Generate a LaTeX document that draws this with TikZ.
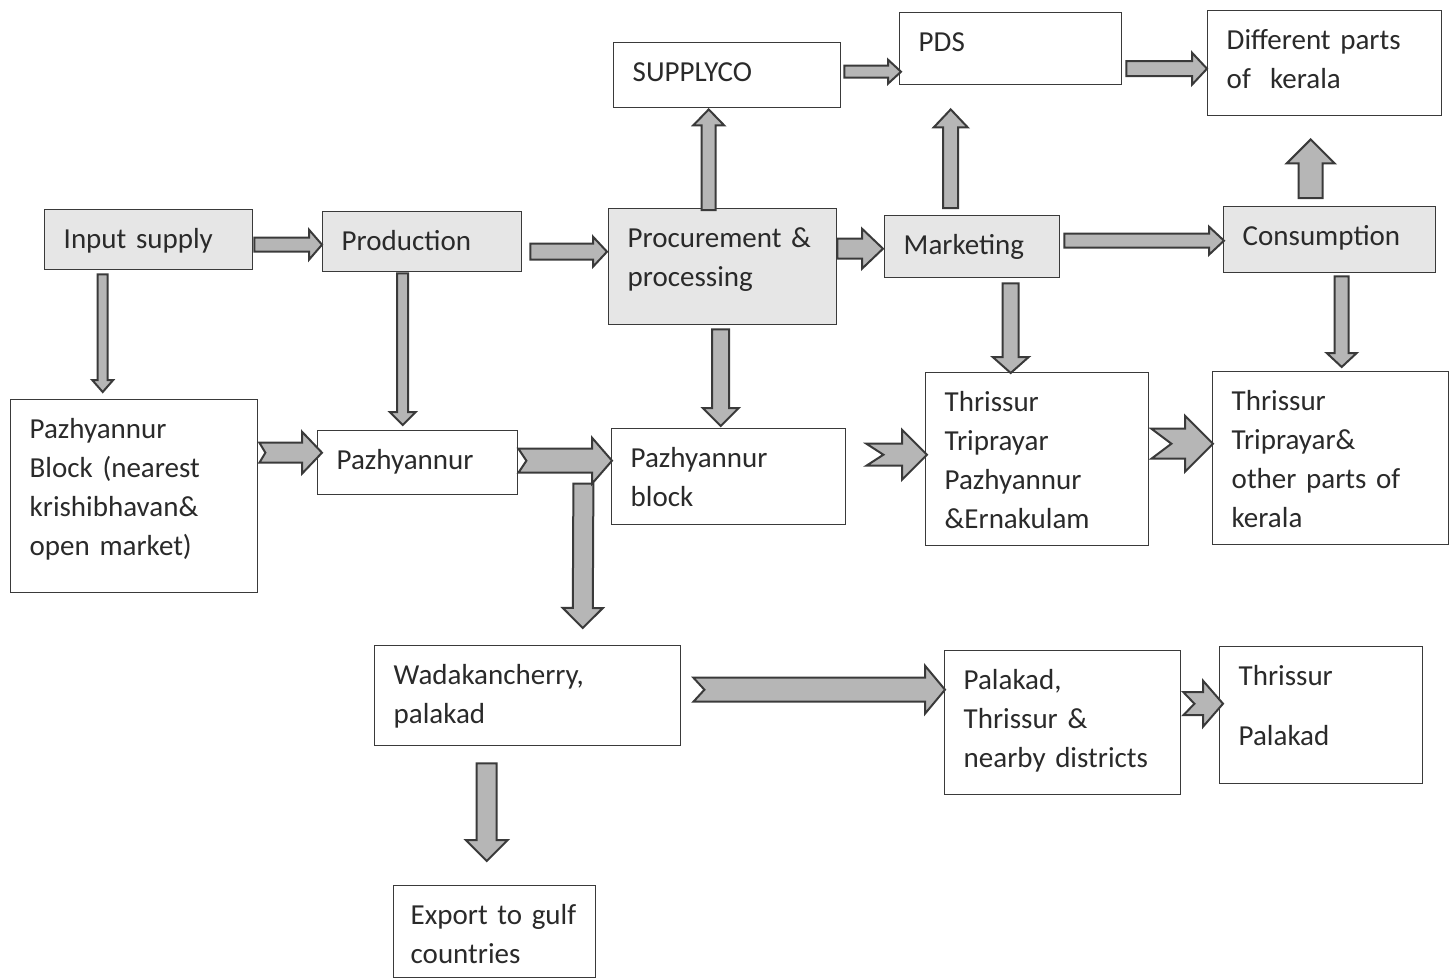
\documentclass[tikz,border=0pt]{standalone}
\usepackage{fontspec}
\setmainfont{Carlito}
\usetikzlibrary{calc}

\definecolor{boxline}{HTML}{3A3A3A}
\definecolor{boxfill}{HTML}{E6E6E6}
\definecolor{arrowfill}{HTML}{B6B6B6}
\definecolor{textcol}{HTML}{2A2A2A}

% [notch]{from}{to}{half shaft}{half head}{head length}
\newcommand{\fatarrow}[6][0]{%
  \coordinate (fa-s) at (#2);
  \coordinate (fa-e) at (#3);
  \coordinate (fa-b) at ($(fa-e)!#6pt!(fa-s)$);
  \draw[fatarrow]
    ($(fa-s)!#4pt!90:(fa-e)$) -- ($(fa-b)!#4pt!90:(fa-e)$)
    -- ($(fa-b)!#5pt!90:(fa-e)$) -- (fa-e)
    -- ($(fa-b)!#5pt!-90:(fa-e)$) -- ($(fa-b)!#4pt!-90:(fa-e)$)
    -- ($(fa-s)!#4pt!-90:(fa-e)$) -- ($(fa-s)!#1pt!(fa-e)$) -- cycle;
}

\begin{document}
\begin{tikzpicture}[
    x=1pt, y=-1pt,
    box/.style={
        draw=boxline,
        line width=1.4pt,
        fill=white,
        align=left,
        anchor=north west,
        inner xsep=19pt,
        inner ysep=0pt,
        text height=38.5pt,
        text=textcol,
        font=\fontsize{29}{39}\selectfont
    },
    stage/.style={box, fill=boxfill},
    fatarrow/.style={
        draw=boxline,
        fill=arrowfill,
        line width=2pt,
        line join=miter
    }
]
\useasboundingbox (0,0) rectangle (1450,978);

% Top row
\node[box, text width=189, text depth=26.5] (supplyco) at (613,42) {SUPPLYCO};
\node[box, text width=184, text depth=33.5] (pds) at (899,12) {PDS};
\node[box, text width=196, text depth=66.5] (kerala) at (1207,10) {Different parts\\of\ \ kerala};

% Stages
\node[stage, text width=170, text depth=21.5] (input) at (44,209) {Input supply};
\node[stage, text width=161, text depth=21.5] (production) at (322,211) {Production};
\node[stage, text width=190, text depth=77.5] (procure) at (608,208) {Procurement \&\\processing};
\node[stage, text width=137, text depth=23.5] (marketing) at (884,215) {Marketing};
\node[stage, text width=174, text depth=27.5] (consume) at (1223,206) {Consumption};

% Places
\node[box, text width=209, text depth=154.5] (pzblock) at (10,399)
    {Pazhyannur\\Block (nearest\\krishibhavan\&\\open market)};
\node[box, text width=162, text depth=25.5] (pzh) at (317,430) {Pazhyannur};
\node[box, text width=196, text depth=57.5] (pzhblock) at (611,428) {Pazhyannur\\block};
\node[box, text width=185, text depth=134.5] (thr1) at (925,372)
    {Thrissur\\Triprayar\\Pazhyannur\\\&Ernakulam};
\node[box, text width=198, text depth=134.5] (thr2) at (1212,371)
    {Thrissur\\Triprayar\&\\other parts of\\kerala};
\node[box, text width=268, text depth=61.5] (wadak) at (374,645) {Wadakancherry,\\palakad};
\node[box, text width=198, text depth=105.5] (palakad) at (944,650)
    {Palakad,\\Thrissur \&\\nearby districts};
\node[box, text width=165, text depth=98.5] (thpal) at (1219,646) {Thrissur\\[21pt]Palakad};
\node[box, inner xsep=17pt, text width=168, text depth=53.5] (export) at (393,885)
    {Export to gulf\\countries};

% Block arrows
\fatarrow{$(input.east)+(1,5)$}{$(production.west)+(0,3)$}{7}{15}{13}
\fatarrow{$(input.south)+(-46,4)$}{$(pzblock.north)+(-31.5,-7)$}{5}{10.5}{12}
\fatarrow{$(production.east)+(8,10)$}{$(procure.west)+(-1,-15)$}{8}{15}{14}
\fatarrow{$(production.south)+(-19.5,1)$}{$(pzh.north)+(-15,-5)$}{5.5}{13}{13}
\fatarrow{$(procure.north)+(-14,2)$}{$(supplyco.south)+(-18.5,1)$}{7}{15.5}{16}
\fatarrow{$(procure.south)+(-2,4)$}{$(pzhblock.north)+(-8,-2)$}{8.5}{18}{18}
\fatarrow{$(procure.east)+(0,-18)$}{$(marketing.west)+(-1,2)$}{10}{20}{21}
\fatarrow{$(marketing.north)+(-21.5,-7)$}{$(pds.south)+(-60,24)$}{7.5}{17}{18}
\fatarrow{$(marketing.east)+(4,-6)$}{$(consume.west)+(1,1)$}{7}{14}{15}
\fatarrow{$(marketing.south)+(38.5,5)$}{$(thr1.north)+(-26.5,1)$}{8}{18}{16}
\fatarrow{$(consume.north)+(-19,-8)$}{$(kerala.south)+(-14,23)$}{12}{24}{24}
\fatarrow{$(consume.south)+(12,3)$}{$(thr2.north)+(11,-4)$}{7}{15}{14}
\fatarrow{$(supplyco.east)+(3,-3.5)$}{$(pds.west)+(2,23)$}{6}{12}{13}
\fatarrow{$(pds.east)+(4,20)$}{$(kerala.west)+(0,5.5)$}{7.5}{16}{15}

% Notched arrows
\fatarrow[6]{$(pzblock.east)+(1,-43.5)$}{$(pzh.west)+(5,-10)$}{10}{21}{20}
\fatarrow{$(pzh.east)+(65,21)$}{$(wadak.north)+(55,-17)$}{10}{20}{20}
\fatarrow[8]{$(pzh.east)+(0,-2)$}{$(pzhblock.west)+(1,-16)$}{12}{23}{20}
\fatarrow[17]{$(pzhblock.east)+(20,-22)$}{$(thr1.west)+(2,-4.5)$}{11}{25}{25}
\fatarrow[20]{$(thr1.east)+(2,-15.5)$}{$(thr2.west)+(1,-14.5)$}{15}{28}{28}
\fatarrow[11]{$(wadak.east)+(12,-6)$}{$(palakad.west)+(1,-33)$}{12}{24}{20}
\fatarrow[11]{$(palakad.east)+(2,-19)$}{$(thpal.west)+(4,-11.5)$}{11.5}{23}{20}
\fatarrow{$(wadak.south)+(-41,17)$}{$(export.north)+(-8,-24)$}{10}{21}{21}
\end{tikzpicture}
\end{document}
